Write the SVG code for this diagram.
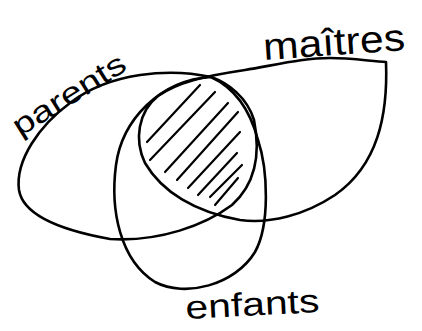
<svg xmlns="http://www.w3.org/2000/svg" width="422" height="331" viewBox="0 0 422 331">
<style>
.set{fill:none;stroke:#000;stroke-width:2.6;stroke-linecap:round;stroke-linejoin:round}
.hatch{fill:none;stroke:#000;stroke-width:2.2;stroke-linecap:round}
.lbl{font-family:"Liberation Sans","DejaVu Sans",sans-serif;fill:#000}
</style>
<rect width="422" height="331" fill="#fff"/>
<g id="parents">
<path class="set" d="M211,77 C170,68 110,72 70,103 C40,125 15,160 19,190 C23,215 60,230 110,239 C160,242 205,225 232,205 C252,187 262,160 254,120 C247,97 228,83 211,77 Z"/>
<text class="lbl" font-size="30" transform="translate(20,137) rotate(-32)" textLength="128" lengthAdjust="spacingAndGlyphs">parents</text>
</g>
<g id="maitres">
<path class="set" d="M386,62 C388,115 378,165 335,195 C305,215 270,224 240,220 C195,212 162,192 145,163 C134,140 138,112 158,96 C178,82 205,76 245,70 C280,64 305,58 330,58 C350,58 370,61 386,62 Z"/>
<text class="lbl" font-size="38" transform="translate(264,60) rotate(-4)" textLength="142" lengthAdjust="spacingAndGlyphs">maîtres</text>
</g>
<g id="enfants">
<path class="set" d="M211,77 C160,80 122,120 116,165 C110,210 120,260 155,282 C185,298 235,285 255,252 C270,225 268,170 258,140 C250,110 235,88 211,77 Z"/>
<text class="lbl" font-size="33" transform="translate(186,319) rotate(-3)" textLength="134" lengthAdjust="spacingAndGlyphs">enfants</text>
</g>
<g id="intersection">
<path class="hatch" d="M147,142 L200,85 M150,160 L215,92 M165,172 L228,103 M177,180 L238,112 M188,188 L240,132 M198,195 L237,153 M210,197 L242,165 M215,205 L238,178"/>
</g>
</svg>
